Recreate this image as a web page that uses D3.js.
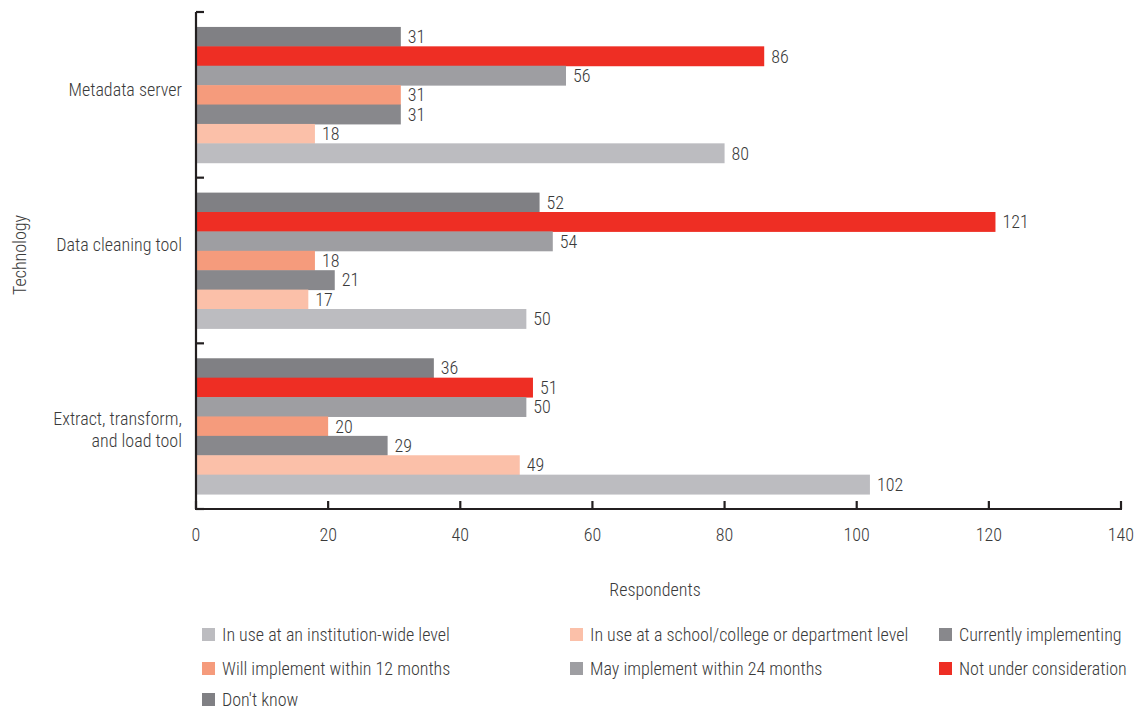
<!DOCTYPE html>
<html><head><meta charset="utf-8">
<script src="https://cdn.jsdelivr.net/npm/d3@7"></script>
<style>
body{margin:0;background:#fff;}
text{font-family:"Liberation Sans Narrow","Arial Narrow","Roboto Condensed","Liberation Sans",sans-serif;fill:#3a3a3a;font-weight:300;}
</style></head>
<body><svg id="c" width="1143" height="710"></svg>
<script>
const categories = ["Metadata server","Data cleaning tool","Extract, transform, and load tool"];
const categoryLines = [["Metadata server"],["Data cleaning tool"],["Extract, transform,","and load tool"]];
// series in drawing order, top to bottom within each group
const seriesNames = ["Don't know","Not under consideration","May implement within 24 months","Will implement within 12 months","Currently implementing","In use at a school/college or department level","In use at an institution-wide level"];
const seriesColors = ["#808084","#EE2E24","#9E9EA2","#F59B7C","#88888C","#FBC0A9","#BCBCC0"];
const dontKnow = [31,52,36];
const notUnder = [86,121,51];
const may24 = [56,54,50];
const will12 = [31,18,20];
const currently = [31,21,29];
const schoolLevel = [18,17,49];
const institutionWide = [80,50,102];
const seriesValues = [dontKnow,notUnder,may24,will12,currently,schoolLevel,institutionWide];
const xTicks = [0,20,40,60,80,100,120,140];
const legendOrder = ["In use at an institution-wide level","In use at a school/college or department level","Currently implementing","Will implement within 12 months","May implement within 24 months","Not under consideration","Don't know"];

const svg = d3.select("#c");
const x0 = 196, x1 = 1121, yTop = 12, yBot = 509;
const FS = 18;
const x = d3.scaleLinear().domain([0,140]).range([x0,x1]);
const y = d3.scaleBand().domain(categories).range([yTop,yBot]).paddingInner(0).paddingOuter(0);
const yInner = d3.scaleBand().domain(seriesNames).range([0,y.bandwidth()]).paddingOuter(0.77).paddingInner(0);

const g = svg.append("g");
categories.forEach((c,ci)=>{
  seriesNames.forEach((s,si)=>{
    const v = seriesValues[si][ci];
    const yy = y(c)+yInner(s);
    g.append("rect").attr("x",x(0)).attr("y",yy).attr("width",x(v)-x(0)).attr("height",yInner.bandwidth()+0.5).attr("fill",seriesColors[si]);
    g.append("text").attr("x",x(v)+7).attr("y",yy+yInner.bandwidth()/2).attr("dy","0.36em").attr("font-size",FS).text(v);
  });
});

// axes
const ax = svg.append("g").attr("stroke","#231f20").attr("stroke-width",2.2).attr("fill","none");
ax.append("line").attr("x1",x0).attr("x2",x0).attr("y1",yTop).attr("y2",yBot);
ax.append("line").attr("x1",x0-1).attr("x2",x1+1).attr("y1",yBot).attr("y2",yBot);
const yBounds = categories.map(c=>y(c)).concat([yBot]);
yBounds.forEach(b=>ax.append("line").attr("x1",x0).attr("x2",x0+8).attr("y1",b).attr("y2",b));
xTicks.forEach(t=>ax.append("line").attr("x1",x(t)).attr("x2",x(t)).attr("y1",yBot).attr("y2",yBot-8));

xTicks.forEach(t=>svg.append("text").attr("x",x(t)).attr("y",541).attr("text-anchor","middle").attr("font-size",FS).text(t));
svg.append("text").attr("x",655).attr("y",596).attr("text-anchor","middle").attr("font-size",FS).text("Respondents");
svg.append("text").attr("transform","translate(26,255) rotate(-90)").attr("text-anchor","middle").attr("font-size",FS).text("Technology");

const labelShift = [-5,-16,3];
categories.forEach((c,ci)=>{
  const lines = categoryLines[ci];
  const cy = y(c)+y.bandwidth()/2 + labelShift[ci];
  lines.forEach((l,li)=>{
    svg.append("text").attr("x",182).attr("y",cy + (li-(lines.length-1)/2)*22).attr("dy","0.36em").attr("text-anchor","end").attr("font-size",FS).text(l);
  });
});

// legend
const colX = [202,570,939], rowY = [635,669,700];
legendOrder.forEach((name,i)=>{
  const col = i%3, row = Math.floor(i/3);
  const si = seriesNames.indexOf(name);
  svg.append("rect").attr("x",colX[col]).attr("y",rowY[row]-7).attr("width",13).attr("height",13).attr("fill",seriesColors[si]);
  svg.append("text").attr("x",colX[col]+20).attr("y",rowY[row]).attr("dy","0.36em").attr("font-size",FS).text(name);
});
</script></body></html>
